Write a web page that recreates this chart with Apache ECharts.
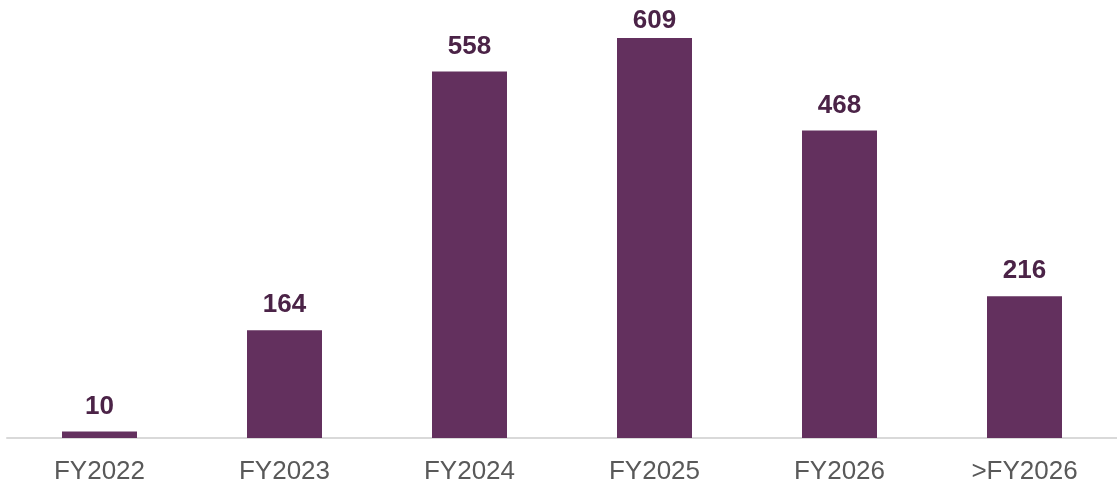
<!DOCTYPE html>
<html>
<head>
<meta charset="utf-8">
<script src="https://cdn.jsdelivr.net/npm/echarts@6/dist/echarts.min.js"></script>
<style>
  html, body { margin: 0; padding: 0; background: #fff; }
  #chart { width: 1117px; height: 488px; }
</style>
</head>
<body>
<div id="chart"></div>
<script>
  const categories = ['FY2022', 'FY2023', 'FY2024', 'FY2025', 'FY2026', '>FY2026'];
  const values = [10, 164, 558, 609, 468, 216];

  let myChart = echarts.init(document.getElementById('chart'));
  let maxVal = Math.max.apply(null, values);
  // the tallest bar's label sits a bit closer to the bar in the original
  let barData = values.map(v => v === maxVal ? { value: v, label: { distance: 4 } } : v);

  let option = {
    animation: false,
    grid: {
      left: 7,
      right: -6,
      top: 38,
      bottom: 50,
      containLabel: false
    },
    xAxis: {
      type: 'category',
      data: categories,
      axisLine: { lineStyle: { color: '#d9d9d9', width: 2 } },
      axisTick: { show: false },
      axisLabel: {
        color: '#595959',
        fontFamily: 'Liberation Sans, Arial, sans-serif',
        fontSize: 26,
        margin: 21
      }
    },
    yAxis: {
      type: 'value',
      min: 0,
      max: maxVal,
      show: false,
      splitLine: { show: false }
    },
    series: [
      {
        type: 'bar',
        data: barData,
        barWidth: 75,
        itemStyle: { color: '#63305e' },
        label: {
          show: true,
          position: 'top',
          distance: 12,
          color: '#4b2347',
          fontWeight: 'bold',
          fontFamily: 'Liberation Sans, Arial, sans-serif',
          fontSize: 26
        }
      }
    ]
  };
  myChart.setOption(option);
</script>
</body>
</html>
